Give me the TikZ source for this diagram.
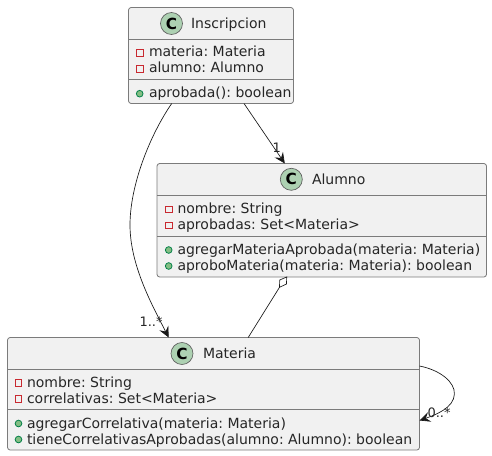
\documentclass[tikz,border=0pt]{standalone}
\usepackage{fontspec}
\setmainfont{DejaVu Sans}
\usetikzlibrary{arrows.meta}
\definecolor{boxfill}{HTML}{F1F1F1}
\definecolor{boxline}{HTML}{7B7B7B}
\definecolor{edge}{HTML}{181818}
\definecolor{iconfill}{HTML}{ADD1B2}
\definecolor{privc}{HTML}{C82930}
\definecolor{pubf}{HTML}{84BE84}
\definecolor{pubc}{HTML}{038048}
\frenchspacing
\begin{document}
\begin{tikzpicture}[x=0.75pt,y=-0.75pt,
  classbox/.style={draw=boxline,fill=boxfill,line width=0.6pt,rounded corners=2pt,anchor=north west,inner sep=0,outer sep=0},
  sep/.style={draw=boxline,line width=0.6pt},
  conn/.style={draw=edge,line width=0.5pt},
  openarrow/.style={-{Stealth[length=8pt,width=7.5pt,inset=3pt]}},
  txt/.style={anchor=base west,inner sep=0,outer sep=0,text=black!85,font=\fontsize{10.5}{12}\selectfont},
  lbl/.style={anchor=base west,inner sep=0,outer sep=0,text=black!85,font=\fontsize{9.75}{12}\selectfont},
  cicon/.style={circle,draw=edge!70,fill=iconfill,line width=0.5pt,minimum size=16.5pt,inner sep=0,font=\fontsize{11.5}{12}\bfseries\selectfont},
  priv/.style={draw=privc,line width=0.6pt,fill=none,minimum size=4.8pt,inner sep=0,rectangle},
  pub/.style={draw=pubc,fill=pubf,line width=0.6pt,circle,minimum size=5pt,inner sep=0}]
\useasboundingbox (0,0) rectangle (492,456);
% boxes
\node[classbox,minimum width=165*0.75pt,minimum height=96*0.75pt] (ins) at (128.5,7.5) {};
\node[classbox,minimum width=329.5*0.75pt,minimum height=113.5*0.75pt] (alu) at (157,163.5) {};
\node[classbox,minimum width=412*0.75pt,minimum height=112.5*0.75pt] (mat) at (7.5,337.5) {};
\draw[sep] (128.5,39.5) -- (293.5,39.5) (128.5,79.5) -- (293.5,79.5);
\draw[sep] (157,195.5) -- (486.5,195.5) (157,236) -- (486.5,236);
\draw[sep] (7.5,369.5) -- (419.5,369.5) (7.5,409.5) -- (419.5,409.5);
% Inscripcion
\node[cicon] (c1) at (171.5,23.5) {C};
\node[txt] (t1) at (191,28.7) {Inscripcion};
\node[priv] (p1) at (139.7,53) {}; \node[txt] (t2) at (149,57) {materia: Materia};
\node[priv] (p2) at (139.7,69) {}; \node[txt] (t3) at (149,73) {alumno: Alumno};
\node[pub] (p3) at (139.7,93.7) {}; \node[txt] (t4) at (149,98) {aprobada(): boolean};
% Alumno
\node[cicon] (c2) at (291.3,179.3) {C};
\node[txt] (t5) at (312,184.7) {Alumno};
\node[priv] (p4) at (168.7,209.3) {}; \node[txt] (t6) at (177.5,213.2) {nombre: String};
\node[priv] (p5) at (168.7,225.3) {}; \node[txt] (t7) at (177.5,229.2) {aprobadas: Set<Materia>};
\node[pub] (p6) at (168.7,250) {}; \node[txt] (t8) at (177.5,254) {agregarMateriaAprobada(materia: Materia)};
\node[pub] (p7) at (168.7,266) {}; \node[txt] (t9) at (177.5,270) {aproboMateria(materia: Materia): boolean};
% Materia
\node[cicon] (c3) at (182,353.5) {C};
\node[txt] (t10) at (203,358.7) {Materia};
\node[priv] (p8) at (18.5,383) {}; \node[txt] (t11) at (27,387) {nombre: String};
\node[priv] (p9) at (18.5,399) {}; \node[txt] (t12) at (27,403) {correlativas: Set<Materia>};
\node[pub] (p10) at (18.5,423.5) {}; \node[txt] (t13) at (27,428) {agregarCorrelativa(materia: Materia)};
\node[pub] (p11) at (18.5,439.5) {}; \node[txt] (t14) at (27,444) {tieneCorrelativasAprobadas(alumno: Alumno): boolean};
% connector ends
\coordinate (ia) at (171.7,103.5); \coordinate (ma) at (168.7,337.5);
\coordinate (ib) at (244,103.5); \coordinate (ab) at (284.8,163.5);
\coordinate (ac) at (286.7,277); \coordinate (mc) at (248.2,337.5);
\coordinate (md) at (419.5,366); \coordinate (me) at (419.5,420.5);
\draw[conn,openarrow] (ia) .. controls (150,135) and (130,185) .. (130,225) .. controls (130,265) and (152,305) .. (ma);
\draw[conn,openarrow] (ib) -- (ab);
\draw[conn] (ac) -- (279.7,280) -- (279.5,287.3) -- (286.5,284) -- cycle;
\draw[conn] (279.5,287.3) -- (mc);
\draw[conn,openarrow] (md) .. controls (440,370) and (455,382) .. (454.4,394) .. controls (454,408) and (435,415) .. (me);
\node[lbl] (l1) at (272.5,152.5) {1};
\node[lbl] (l2) at (139.5,326) {1..*};
\node[lbl] (l3) at (427.5,417.7) {0..*};
\end{tikzpicture}
\end{document}
